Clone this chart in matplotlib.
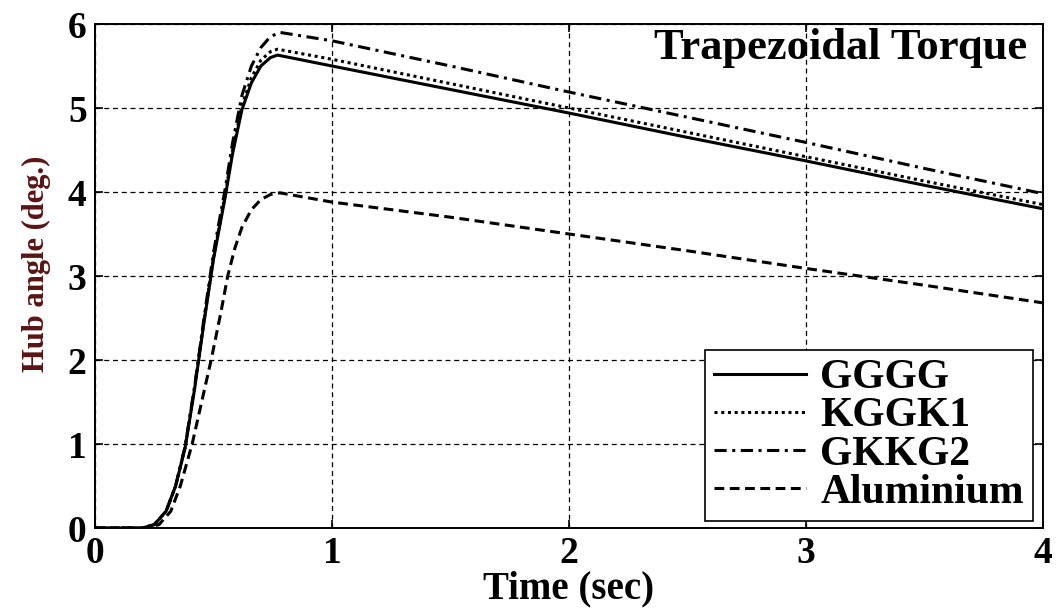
import matplotlib
matplotlib.use("Agg")
import matplotlib.pyplot as plt

# Hub angle response to a trapezoidal torque.
T_GGGG = [0, 0.20, 0.25, 0.30, 0.34, 0.38, 0.42, 0.46, 0.50, 0.55, 0.58, 0.62,
          0.66, 0.70, 0.74, 0.77, 1.0, 1.5, 2.0, 2.5, 3.0, 3.5, 4.0]
Y_GGGG = [0, 0, 0.04, 0.20, 0.50, 0.95, 1.65, 2.45, 3.20, 3.95, 4.45, 4.98,
          5.30, 5.50, 5.60, 5.63, 5.50, 5.22, 4.94, 4.65, 4.37, 4.08, 3.80]

T_KGGK1 = [0, 0.20, 0.25, 0.30, 0.34, 0.38, 0.42, 0.46, 0.50, 0.55, 0.58, 0.62,
           0.66, 0.70, 0.74, 0.77, 1.0, 1.5, 2.0, 2.5, 3.0, 3.5, 4.0]
Y_KGGK1 = [0, 0, 0.04, 0.20, 0.50, 0.96, 1.66, 2.47, 3.22, 3.98, 4.49, 5.03,
           5.36, 5.57, 5.67, 5.70, 5.58, 5.29, 5.00, 4.71, 4.42, 4.13, 3.85]

T_GKKG2 = [0, 0.20, 0.25, 0.30, 0.34, 0.38, 0.42, 0.46, 0.50, 0.55, 0.58, 0.62,
           0.66, 0.70, 0.74, 0.78, 1.0, 1.5, 2.0, 2.5, 3.0, 3.5, 4.0]
Y_GKKG2 = [0, 0, 0.04, 0.20, 0.50, 0.97, 1.68, 2.50, 3.28, 4.05, 4.58, 5.15,
           5.50, 5.72, 5.85, 5.90, 5.80, 5.50, 5.19, 4.89, 4.59, 4.28, 3.98]

T_ALU = [0, 0.22, 0.27, 0.32, 0.36, 0.41, 0.45, 0.49, 0.53, 0.56, 0.59, 0.62,
         0.66, 0.70, 0.74, 0.78, 1.0, 1.5, 2.0, 2.5, 3.0, 3.5, 4.0]
Y_ALU = [0, 0, 0.04, 0.20, 0.50, 1.00, 1.50, 2.00, 2.55, 3.00, 3.33, 3.58,
         3.79, 3.91, 3.97, 3.99, 3.88, 3.70, 3.50, 3.30, 3.09, 2.89, 2.68]

X_TICKS = [0, 1, 2, 3, 4]
Y_TICKS = [0, 1, 2, 3, 4, 5, 6]

plt.rcParams["font.family"] = ["Liberation Serif", "DejaVu Serif"]
plt.rcParams["font.weight"] = "bold"

fig = plt.figure(figsize=(10.56, 6.08), dpi=100)
ax = fig.add_axes([95 / 1056, 1 - 528 / 608, 948 / 1056, 504 / 608])

lw = 2.2
ax.plot(T_GGGG, Y_GGGG, color="black", linestyle="-", linewidth=lw, label="GGGG")
ax.plot(T_KGGK1, Y_KGGK1, color="black", linestyle=(0, (1, 1.2)), linewidth=lw, label="KGGK1")
ax.plot(T_GKKG2, Y_GKKG2, color="black", linestyle=(0, (4, 1.8, 1, 1.8)), linewidth=lw, label="GKKG2")
ax.plot(T_ALU, Y_ALU, color="black", linestyle=(0, (3.2, 1.8)), linewidth=lw, label="Aluminium")

ax.set_xlim(0, 4)
ax.set_ylim(0, 6)
ax.set_xticks(X_TICKS)
ax.set_yticks(Y_TICKS)
ax.tick_params(direction="in", length=6, width=1.2, labelsize=27, pad=6,
               top=True, right=True)
for lab in ax.get_xticklabels() + ax.get_yticklabels():
    lab.set_fontweight("bold")

ax.grid(True, color="black", linestyle=(0, (4, 3)), linewidth=0.9)
for sp in ax.spines.values():
    sp.set_linewidth(1.4)
    sp.set_color("black")

ax.set_xlabel("Time (sec)", fontsize=28, fontweight="bold", labelpad=-1)
ax.set_ylabel("Hub angle (deg.)", fontsize=22, fontweight="bold", color="#5a1414")
ax.yaxis.set_label_coords(-0.046, 0.524)

ax.text(0.983, 0.953, "Trapezoidal Torque", transform=ax.transAxes,
        ha="right", va="center", fontsize=32, fontweight="bold")

leg = ax.legend(loc="lower right", bbox_to_anchor=(0.9895, 0.014),
                borderaxespad=0, fontsize=30, frameon=True, fancybox=False,
                framealpha=1, edgecolor="black", handlelength=2.2,
                handletextpad=0.35, labelspacing=0.0, borderpad=0.22)
leg.get_frame().set_linewidth(1.2)
for t in leg.get_texts():
    t.set_fontweight("bold")

fig.savefig("out.png", dpi=100)
